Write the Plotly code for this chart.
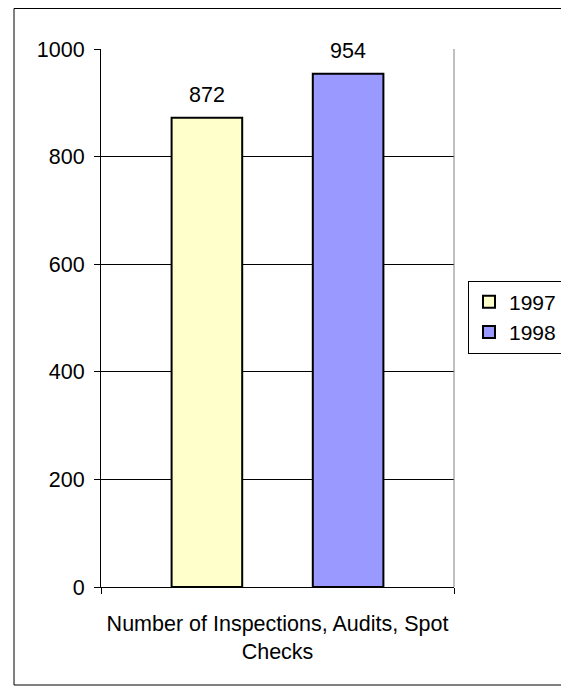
import plotly.graph_objects as go

categories = ["Number of Inspections, Audits, Spot<br>Checks"]
series_names = ["1997", "1998"]
values_1997 = [872]
values_1998 = [954]
y_ticks = [0, 200, 400, 600, 800, 1000]

FONT = "Liberation Sans, Arial, sans-serif"
FS = 21.5

# page body has an 8px margin; figure laid out in its own frame
L, T, PW, PH = 93, 41, 353, 538
W, H = 561, 679

fig = go.Figure()
fig.add_trace(go.Bar(name=series_names[0], x=categories, y=values_1997,
                     marker=dict(color="#FFFFCC", line=dict(color="black", width=2))))
fig.add_trace(go.Bar(name=series_names[1], x=categories, y=values_1998,
                     marker=dict(color="#9999FF", line=dict(color="black", width=2))))

# data labels above bars
for i, vals in enumerate([values_1997, values_1998]):
    fig.add_annotation(x=-0.2 + 0.4 * i, y=vals[0], xref="x", yref="y",
                       text=str(vals[0]), showarrow=False, yanchor="middle", yshift=23,
                       font=dict(size=FS, color="black", family=FONT))

# plot area right border (gray) and outer chart border
fig.add_shape(type="line", xref="paper", yref="paper", x0=1, x1=1, y0=0, y1=1,
              line=dict(color="#808080", width=1))
fig.add_shape(type="rect", xref="paper", yref="paper",
              x0=(6 - L) / PW, x1=(558 - L) / PW,
              y0=(T + PH - 677) / PH, y1=(T + PH - 0.5) / PH,
              line=dict(color="black", width=1), fillcolor="rgba(0,0,0,0)")

fig.update_layout(
    width=W, height=H,
    margin=dict(l=L, r=W - L - PW, t=T, b=H - T - PH, autoexpand=False),
    paper_bgcolor="white", plot_bgcolor="white",
    barmode="group", bargap=0.2, bargroupgap=0.5,
    font=dict(family=FONT, size=FS, color="black"),
    showlegend=True,
    legend=dict(x=(460 - L) / PW, xanchor="left", y=(T + PH - 309) / PH, yanchor="middle",
                bordercolor="black", borderwidth=1, bgcolor="white",
                font=dict(size=21, family=FONT), itemwidth=30, tracegroupgap=0),
    xaxis=dict(range=[-0.5, 0.5], showline=True, linecolor="black", linewidth=1,
               ticks="outside", tickson="boundaries", ticklen=6, tickcolor="black",
               showgrid=False, tickfont=dict(size=FS), ticklabelstandoff=17),
    yaxis=dict(range=[0, 1000], tickvals=y_ticks, showline=True, linecolor="black", linewidth=1,
               ticks="outside", ticklen=6, tickcolor="black", showgrid=True, gridcolor="black",
               gridwidth=1, zeroline=False, tickfont=dict(size=FS), ticklabelstandoff=5),
)

fig.write_html("out.html")
